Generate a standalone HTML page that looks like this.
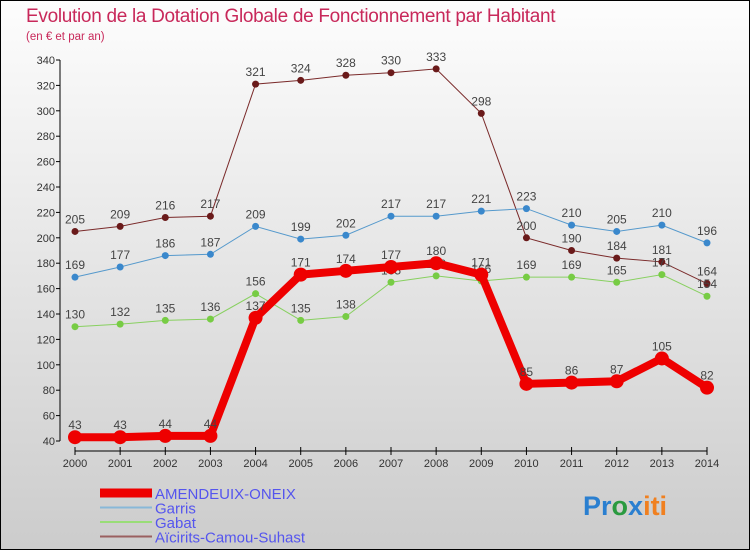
<!DOCTYPE html>
<html><head><meta charset="utf-8"><style>
html,body{margin:0;padding:0}
body{width:750px;height:550px;overflow:hidden;font-family:"Liberation Sans",sans-serif}
#wrap{position:absolute;left:0;top:0;width:748px;height:548px;border:1px solid #000;background:linear-gradient(#fdfdfd,#cccccc)}
</style></head><body>
<div id="wrap">
<svg id="chart" width="750" height="550" viewBox="0 0 750 550" style="position:absolute;left:-1px;top:-1px">
<text x="26" y="22" font-size="19" fill="#c8285a" style="letter-spacing:-0.3px">Evolution de la Dotation Globale de Fonctionnement par Habitant</text>
<text x="26" y="40" font-size="11.5" fill="#c8285a">(en € et par an)</text>
<g id="axes"></g><g id="series"></g><g id="legend"></g>
<text x="583" y="515" font-size="27" font-weight="bold"><tspan fill="#2a7fd0">Pr</tspan><tspan fill="#2a9a40">o</tspan><tspan fill="#2a7fd0">x</tspan><tspan fill="#f08020">iti</tspan></text>
</svg></div>
<script>
const years=[2000,2001,2002,2003,2004,2005,2006,2007,2008,2009,2010,2011,2012,2013,2014];
const yTicks=[40,60,80,100,120,140,160,180,200,220,240,260,280,300,320,340];
const amendeuix=[43,43,44,44,137,171,174,177,180,171,85,86,87,105,82];
const garris=[169,177,186,187,209,199,202,217,217,221,223,210,205,210,196];
const gabat=[130,132,135,136,156,135,138,165,170,166,169,169,165,171,154];
const aicirits=[205,209,216,217,321,324,328,330,333,298,200,190,184,181,164];
const names=["AMENDEUIX-ONEIX","Garris","Gabat","Aïcirits-Camou-Suhast"];
const NS="http://www.w3.org/2000/svg";
const X=i=>75+i*(632/14);
const Y=v=>441-(v-40)*381/300;
function mk(t,a,p){const e=document.createElementNS(NS,t);for(const k in a)e.setAttribute(k,a[k]);p.appendChild(e);return e;}
const ax=document.getElementById('axes');
let e=mk('line',{x1:60,y1:Y(340),x2:60,y2:Y(40),stroke:'#000'},ax);


e=mk('line',{x1:75,y1:451,x2:707,y2:451,stroke:'#000'},ax);


yTicks.forEach(v=>{
 mk('line',{x1:56,x2:60,y1:Y(v),y2:Y(v),stroke:'#000'},ax);
 const t=mk('text',{x:55,y:Y(v)+4,'font-size':11,'text-anchor':'end',fill:'#333'},ax);t.textContent=v;
 
 
});
years.forEach((y,i)=>{
 mk('line',{x1:X(i),x2:X(i),y1:447,y2:455,stroke:'#000'},ax);
 const t=mk('text',{x:X(i),y:467,'font-size':11,'text-anchor':'middle',fill:'#333'},ax);t.textContent=y;
 
 
});
const sg=document.getElementById('series');
const defs=[
 {d:aicirits,c:'#7a2a2a',dot:'#6a1a1a',w:1,r:3.5,n:'aicirits-series'},
 {d:gabat,c:'#88d060',dot:'#77cc44',w:1,r:3.5,n:'gabat-series'},
 {d:garris,c:'#5599cc',dot:'#3a88cc',w:1,r:3.5,n:'garris-series'},
 {d:amendeuix,c:'#ee0000',dot:'#ee0000',w:8,r:7,n:'amendeuix-series'}];
defs.forEach(s=>{
 const g=mk('g',{},sg);
 
 
 const p=mk('polyline',{points:s.d.map((v,i)=>X(i)+','+Y(v)).join(' '),fill:'none',stroke:s.c,'stroke-width':s.w},g);
 
 
 s.d.forEach((v,i)=>{
  const c=mk('circle',{cx:X(i),cy:Y(v),r:s.r,fill:s.dot},g);
  
  
  const t=mk('text',{x:X(i),y:Y(v)-8,'font-size':12,'text-anchor':'middle',fill:'#444'},g);t.textContent=v;
  
  
 });
});
const lg=document.getElementById('legend');
const lc=['#ee0000','#88b8d8','#99dd77','#9a6060'],lw=[9,2,2,2];
names.forEach((n,i)=>{
 const y=493+i*14.5;
 const l=mk('line',{x1:100,x2:152,y1:y,y2:y,stroke:lc[i],'stroke-width':lw[i]},lg);
 
 
 const t=mk('text',{x:155,y:y+6,'font-size':15,fill:'#5555ee'},lg);t.textContent=n;
 
 
});
</script>
</body></html>
